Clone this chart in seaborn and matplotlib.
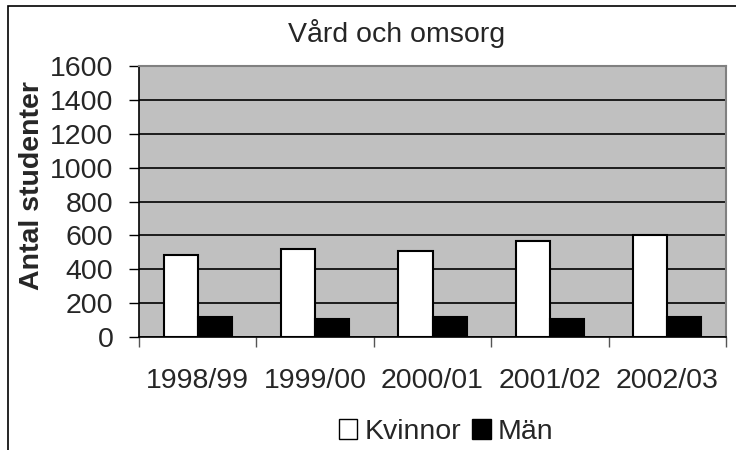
import matplotlib
matplotlib.use("Agg")
import matplotlib.pyplot as plt
import seaborn as sns
import pandas as pd
from matplotlib.patches import Patch, Rectangle

years = ["1998/99", "1999/00", "2000/01", "2001/02", "2002/03"]
kvinnor = [484, 518, 506, 567, 600]
man = [119, 109, 119, 109, 119]
series = ["Kvinnor", "Män"]
title = "Vård och omsorg"
ylabel = "Antal studenter"
yticks = [0, 200, 400, 600, 800, 1000, 1200, 1400, 1600]

df = pd.DataFrame({
    "year": years * 2,
    "value": kvinnor + man,
    "sex": [series[0]] * len(years) + [series[1]] * len(years),
})

sns.set_theme(style="white")
plt.rcParams["font.family"] = ["Liberation Sans", "DejaVu Sans"]
FS = 20.5

fig = plt.figure(figsize=(7.36, 4.5), dpi=100)
W, H = 736, 450
ax = fig.add_axes([139 / W, 1 - 337 / H, (726 - 139) / W, (337 - 66) / H])
ax.set_facecolor("#c0c0c0")

sns.barplot(data=df, x="year", y="value", hue="sex", order=years,
            hue_order=series, palette=["white", "black"], edgecolor="black",
            linewidth=1.5, width=0.58, gap=0, legend=False, ax=ax, zorder=3)

ax.set_ylim(0, 1600)
ax.set_xlim(-0.5, len(years) - 0.5)
ax.set_yticks(yticks)
ax.set_yticklabels([str(v) for v in yticks], fontsize=FS)
ax.yaxis.grid(True, color="black", linewidth=1.2, zorder=1)
ax.set_axisbelow(True)
ax.tick_params(axis="y", direction="out", length=7.5, width=1, color="black",
               left=True, pad=11)
ax.set_xticks(range(len(years)))
ax.set_xticklabels(years, fontsize=FS)
ax.tick_params(axis="x", which="major", length=0, pad=22)
ax.set_xticks([i - 0.5 for i in range(len(years) + 1)], minor=True)
ax.tick_params(axis="x", which="minor", direction="out", length=7, width=1,
               color="#555555", bottom=True)
ax.set_xlabel("")
ax.set_ylabel("")
for s in ["left", "bottom"]:
    ax.spines[s].set_color("black")
    ax.spines[s].set_linewidth(1.2)
for s in ["top", "right"]:
    ax.spines[s].set_color("#808080")
    ax.spines[s].set_linewidth(1.5)
for p in ax.patches:
    p.set_zorder(3)

fig.text(397 / W, 1 - 33 / H, title, fontsize=FS, ha="center", va="center")
fig.text(32 / W, 1 - 186 / H, ylabel, fontsize=FS, fontweight="bold",
         rotation=90, ha="center", va="center")

handles = [Patch(facecolor="white", edgecolor="black", linewidth=1),
           Patch(facecolor="black", edgecolor="black", linewidth=1)]
fig.legend(handles, series, loc="center", bbox_to_anchor=(446 / W, 1 - 432 / H),
           ncol=2, frameon=False, fontsize=FS, handlelength=0.65,
           handleheight=0.65, handletextpad=0.25, columnspacing=0.4,
           borderpad=0, borderaxespad=0)

fig.patches.append(Rectangle((8 / W, -0.2), 1.2, 1.2 - 6 / H,
                             transform=fig.transFigure, fill=False,
                             edgecolor="black", linewidth=1.2, clip_on=False))

fig.savefig("out.png", dpi=100, facecolor="white")
